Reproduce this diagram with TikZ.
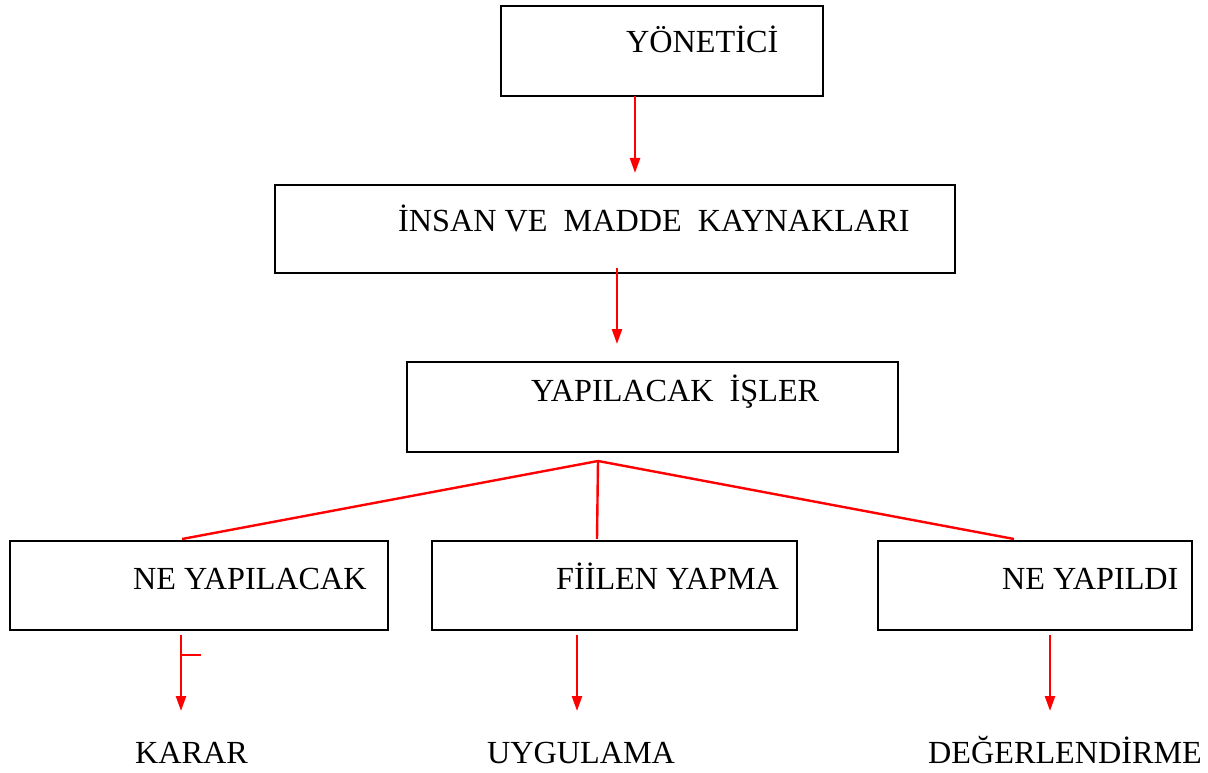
\documentclass[tikz,border=0pt]{standalone}
\usepackage{fontspec}
\setmainfont{Liberation Serif}
\usetikzlibrary{arrows.meta}
\tikzset{
  box/.style={draw=black, line width=2.8pt, anchor=north west, inner sep=0pt, outer sep=0pt, fill=none},
  lbl/.style={anchor=base west, inner sep=0pt, font=\fontsize{32.2}{36}\selectfont},
  link/.style={draw=red, line width=2.4pt},
  arr/.style={link, -{Triangle[width=10pt,length=15pt]}}
}
\begin{document}
\begin{tikzpicture}[x=1pt,y=-1pt]
\useasboundingbox (0,0) rectangle (1208,773);
% boxes
\node[box, minimum width=322pt, minimum height=90pt] (b1) at (501,6) {};
\node[box, minimum width=680pt, minimum height=88pt] (b2) at (275,185) {};
\node[box, minimum width=491pt, minimum height=90pt] (b3) at (407,362) {};
\node[box, minimum width=378pt, minimum height=89pt] (b4) at (10,541) {};
\node[box, minimum width=365pt, minimum height=89pt] (b5) at (432,541) {};
\node[box, minimum width=314pt, minimum height=89pt] (b6) at (878,541) {};
% texts
\node[lbl] (t1) at (626,53) {YÖNETİCİ};
\node[lbl] (t2) at (398,231) {İNSAN VE\ \ MADDE\ \ KAYNAKLARI};
\node[lbl] (t3) at (531,401) {YAPILACAK\ \ İŞLER};
\node[lbl] (t4) at (133,589) {NE YAPILACAK};
\node[lbl] (t5) at (556,589) {FİİLEN YAPMA};
\node[lbl] (t6) at (1002,589) {NE YAPILDI};
\node[lbl] (k1) at (135,763) {KARAR};
\node[lbl] (k2) at (487,763) {UYGULAMA};
\node[lbl] (k3) at (928,763) {DEĞERLENDİRME};
% connector points
\coordinate (a1s) at (635,96);  \coordinate (a1e) at (635,173);
\coordinate (a2s) at (617,268); \coordinate (a2e) at (617,344);
\coordinate (top) at (598,461);
\coordinate (l1) at (182,539);
\coordinate (l2) at (597,539);
\coordinate (l3) at (1014,539);
\coordinate (a3s) at (181,635); \coordinate (a3e) at (181,711);
\coordinate (a4s) at (577,635); \coordinate (a4e) at (577,711);
\coordinate (a5s) at (1050,635); \coordinate (a5e) at (1050,711);
\coordinate (tk1) at (181,655); \coordinate (tk2) at (201,655);
% connectors
\draw[arr] (a1s) -- (a1e);
\draw[arr] (a2s) -- (a2e);
\draw[link] (l1) -- (top) -- (l3);
\draw[link] (top) -- (l2);
\draw[arr] (a3s) -- (a3e);
\draw[link, line width=1.8pt] (tk1) -- (tk2);
\draw[arr] (a4s) -- (a4e);
\draw[arr] (a5s) -- (a5e);
\end{tikzpicture}
\end{document}
